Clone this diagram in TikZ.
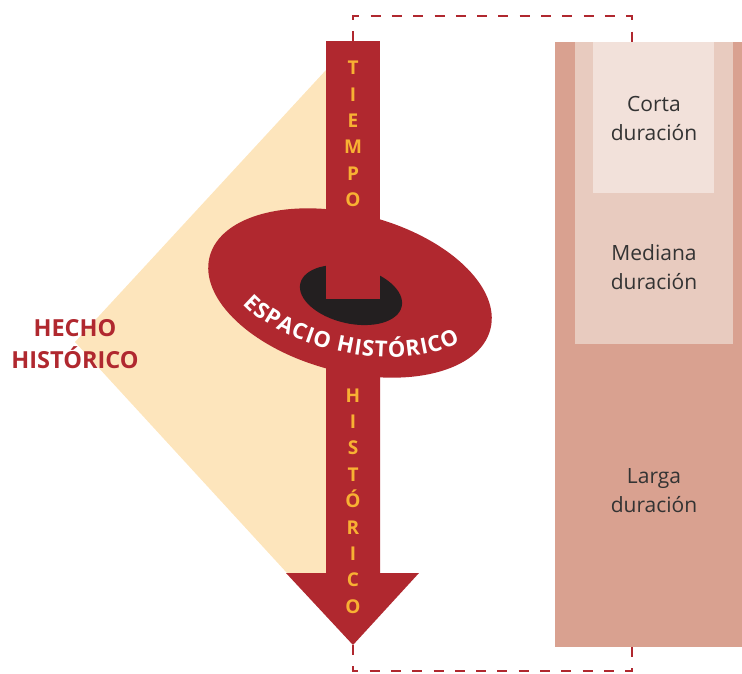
\documentclass[tikz,border=0pt]{standalone}
\usepackage{fontspec}
\setmainfont{Open Sans}
\usetikzlibrary{decorations.text}
\definecolor{hred}{RGB}{176,40,47}
\definecolor{beige}{RGB}{253,229,188}
\definecolor{tgold}{RGB}{248,177,51}
\definecolor{hole}{RGB}{35,31,32}
\definecolor{largo}{RGB}{217,161,144}
\definecolor{medio}{RGB}{232,203,191}
\definecolor{corto}{RGB}{242,225,218}
\definecolor{ink}{RGB}{51,51,51}

\begin{document}
\begin{tikzpicture}[x=1pt,y=-1pt,
  dashline/.style={draw=hred,line width=2pt,dash pattern=on 10pt off 11.3pt},
  vletters/.style={text=tgold,font=\fontsize{19}{26.4}\selectfont\bfseries,align=center,inner sep=0pt},
  dur/.style={text=ink,font=\fontsize{21}{29}\selectfont,align=center,inner sep=0pt}]
\useasboundingbox (0,0) rectangle (742,673);

% Right-hand boxes
\fill [largo] (555,42) rectangle (742,647);
\fill [medio] (575,42) rectangle (733,344);
\fill [corto] (593,42) rectangle (714,193);
\node [dur] (corta) at (654,118) {Corta\\duración};
\node [dur] (mediana) at (654,267) {Mediana\\duración};
\node [dur] (larga) at (654,491) {Larga\\duración};
\coordinate (boxtop) at (632,42);
\coordinate (boxbot) at (632,647);

% Beige cone
\fill [beige] (326,70) -- (75,342) -- (287,573) -- (326,573) -- cycle;
\node [text=hred,font=\fontsize{23.5}{32}\selectfont\bfseries,align=center,inner sep=0pt] (hecho) at (75,344) {HECHO\\HISTÓRICO};

% Lower arrow
\fill [hred] (326,300) -- (326,573) -- (286,573) -- (353,645) -- (419,573) -- (380,573) -- (380,300) -- cycle;
\coordinate (shafttop) at (353,41);
\coordinate (tip) at (353,645);

% Ellipse with hole
\fill [hred,rotate around={-14.5:(350,293)}] (350,293) ellipse (145 and 79);
\fill [hole,rotate around={-12.8:(351,295)}] (351,295) ellipse (52 and 28.5);
\fill [hred] (326,41) rectangle (380,299);

% Letters
\node [vletters] (tiempo) at (353,134) {T\\I\\E\\M\\P\\O};
\node [vletters] (historico) at (353,501) {H\\I\\S\\T\\Ó\\R\\I\\C\\O};
\path [decorate,decoration={text along path,text align={fit to path},
  text={|\fontsize{22}{22}\selectfont\bfseries\color{white}|ESPACIO HISTÓRICO}}]
  (243,304) .. controls (280,345) and (395,378) .. (460,342);

% Dashed links
\draw [dashline] (shafttop) -- ++(0,-25) -| (boxtop);
\draw [dashline] (tip) -- ++(0,26) -| (boxbot);
\end{tikzpicture}
\end{document}
